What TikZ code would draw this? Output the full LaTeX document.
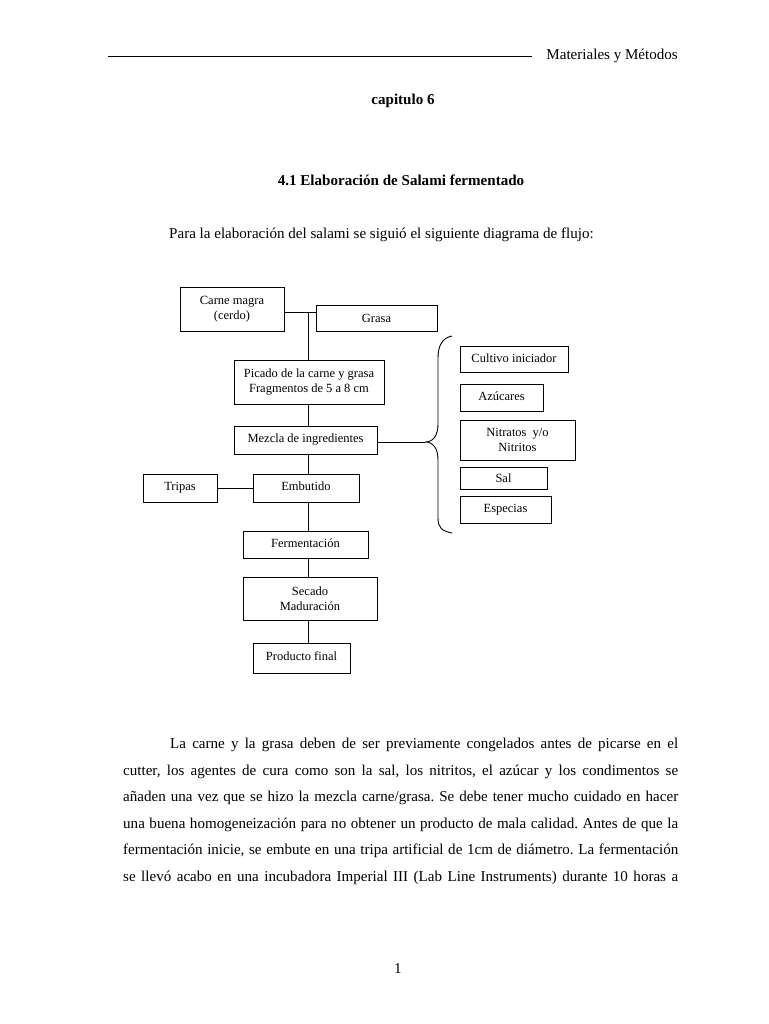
\documentclass[tikz,border=0pt]{standalone}
\usepackage{fontspec}
\setmainfont{Liberation Serif}
\begin{document}
\begin{tikzpicture}[x=1pt,y=-1pt,
  bodytxt/.style={inner sep=0pt, font=\fontsize{15.06}{18}\selectfont\frenchspacing},
  boldtxt/.style={inner sep=0pt, font=\fontsize{15.06}{18}\selectfont\bfseries},
  flowbox/.style={draw, line width=0.9pt, inner sep=1pt, align=center, font=\fontsize{12.5}{15}\selectfont},
  onebox/.style={flowbox, text height=9pt, text depth=4pt},
  link/.style={line width=0.9pt}]
\fill[white] (0,0) rectangle (768,1024);
\useasboundingbox (0,0) rectangle (768,1024);
% header
\coordinate (hl) at (108,56);
\coordinate (hr) at (532,56);
\draw[line width=0.9pt] (hl) -- (hr);
\node[bodytxt, anchor=base east] (hdr) at (678,60) {Materiales y Métodos};
\node[boldtxt, anchor=base] (cap) at (403,105) {capitulo 6};
\node[boldtxt, anchor=base] (sec) at (401,186) {4.1 Elaboración de Salami fermentado};
\node[bodytxt, anchor=base west] (intro) at (169,238) {Para la elaboración del salami se siguió el siguiente diagrama de flujo:};
% boxes
\node[flowbox, minimum width=104pt, minimum height=44pt] (carne) at (232,309) {Carne magra\\(cerdo)};
\node[flowbox, minimum width=121pt, minimum height=26pt] (grasa) at (376.5,318) {Grasa};
\node[flowbox, minimum width=150pt, minimum height=44pt] (picado) at (309,382) {Picado de la carne y grasa\\Fragmentos de 5 a 8 cm};
\node[onebox, minimum width=143pt, minimum height=28pt] (mezcla) at (305.5,440) {Mezcla de ingredientes};
\node[onebox, minimum width=74pt, minimum height=28pt] (tripas) at (180,488) {Tripas};
\node[onebox, minimum width=106pt, minimum height=28pt] (embutido) at (306,488) {Embutido};
\node[onebox, minimum width=125pt, minimum height=27pt] (ferm) at (305.5,544.5) {Fermentación};
\node[flowbox, minimum width=134pt, minimum height=43pt] (secado) at (310,598.5) {Secado\\Maduración};
\node[onebox, minimum width=97pt, minimum height=30pt] (producto) at (301.5,658) {Producto final};
\node[onebox, minimum width=108pt, minimum height=26pt] (cultivo) at (514,359.5) {Cultivo iniciador};
\node[onebox, minimum width=83pt, minimum height=27pt] (azucar) at (501.5,397.5) {Azúcares};
\node[flowbox, minimum width=115pt, minimum height=40pt] (nitratos) at (517.5,440) {Nitratos\hspace{3pt} y/o\\Nitritos};
\node[flowbox, minimum width=87pt, minimum height=22pt] (sal) at (503.5,478) {Sal};
\node[onebox, minimum width=91pt, minimum height=27pt] (especias) at (505.5,509.5) {Especias};
% connectors
\coordinate (j) at (308,312);
\draw[link] (carne.east |- j) -- (grasa.west |- j);
\draw[link] (j) -- (j |- picado.north);
\draw[link] (j |- picado.south) -- (j |- mezcla.north);
\draw[link] (j |- mezcla.south) -- (j |- embutido.north);
\draw[link] (j |- embutido.south) -- (j |- ferm.north);
\draw[link] (j |- ferm.south) -- (j |- secado.north);
\draw[link] (j |- secado.south) -- (j |- producto.north);
\draw[link] (tripas.east) -- (embutido.west);
\coordinate (tip) at (425,442);
\draw[link] (mezcla.east |- tip) -- (tip);
% brace
\coordinate (btop) at (452,336);
\coordinate (bbot) at (452,533);
\draw[line width=0.9pt] (btop) .. controls (442,338) and (438,346) .. (438,358) -- (438,424)
  .. controls (438,436) and (433,442) .. (tip)
  .. controls (433,442) and (438,448) .. (438,460) -- (438,518)
  .. controls (438,528) and (442,531) .. (bbot);
% body text
\node[bodytxt, anchor=base west] (l1) at (170,748) {\hbox to 508pt{La carne y la grasa deben de ser previamente congelados antes de picarse en el}};
\node[bodytxt, anchor=base west] (l2) at (123,775) {\hbox to 555pt{cutter, los agentes de cura como son la sal, los nitritos, el azúcar y los condimentos se}};
\node[bodytxt, anchor=base west] (l3) at (123,801) {\hbox to 555pt{añaden una vez que se hizo la mezcla carne/grasa. Se debe tener mucho cuidado en hacer}};
\node[bodytxt, anchor=base west] (l4) at (123,828) {\hbox to 555pt{una buena homogeneización para no obtener un producto de mala calidad. Antes de que la}};
\node[bodytxt, anchor=base west] (l5) at (123,854) {\hbox to 555pt{fermentación inicie, se embute en una tripa artificial de 1cm de diámetro. La fermentación}};
\node[bodytxt, anchor=base west] (l6) at (123,881) {\hbox to 555pt{se llevó acabo en una incubadora Imperial III (Lab Line Instruments) durante 10 horas a}};
\node[bodytxt, anchor=base] (pg) at (398,973) {1};
\end{tikzpicture}
\end{document}
